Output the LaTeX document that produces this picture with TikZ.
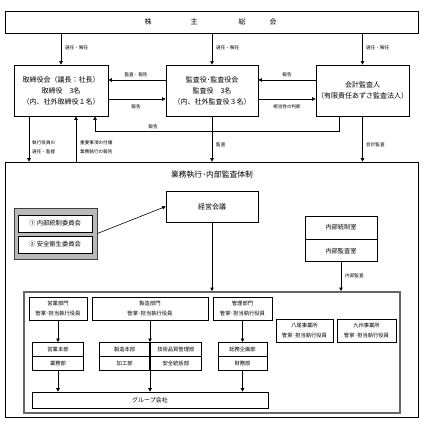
\documentclass[tikz,border=0pt]{standalone}
\usepackage{fontspec}
\setmainfont{Noto Sans CJK JP}
\usetikzlibrary{arrows.meta,calc}
\begin{document}
\begin{tikzpicture}[x=1pt,y=-1pt,
  box/.style={draw=black,line width=0.75pt,fill=white,inner sep=0pt,align=center,font=\fontsize{7}{11}\selectfont},
  sbox/.style={draw=black,line width=0.65pt,fill=white,inner sep=0pt,align=center,font=\fontsize{5.3}{9.5}\selectfont},
  cbox/.style={draw=black,line width=0.9pt,fill=white,inner sep=0pt,align=center,font=\fontsize{6.3}{8}\selectfont},
  lbl/.style={inner sep=0pt,align=left,font=\fontsize{4.6}{8.8}\selectfont},
  arr/.style={line width=0.6pt,-{Triangle[length=3.5pt,width=3.5pt]}},
  ln/.style={line width=0.6pt}]
\useasboundingbox (0,0) rectangle (427,427);
% helper coordinates
\coordinate (y80) at (0,80);
\coordinate (y99) at (0,99);
\coordinate (x29) at (29,0);
\coordinate (x76) at (76,0);
\coordinate (x339) at (339,0);
\coordinate (x95) at (95,0);
\coordinate (y131) at (0,131);
% top
\node[box,minimum width=413,minimum height=22] (kabu) at (211.5,22) {};
\node[inner sep=0pt,font=\fontsize{7}{9}\selectfont] (k1) at (148,22) {株};
\node[inner sep=0pt,font=\fontsize{7}{9}\selectfont] (k2) at (194,22) {主};
\node[inner sep=0pt,font=\fontsize{7}{9}\selectfont] (k3) at (242,22) {総};
\node[inner sep=0pt,font=\fontsize{7}{9}\selectfont] (k4) at (273,22) {会};
\node[box,minimum width=94,minimum height=51] (tori) at (61,90.5) {取締役会（議長：社長）\\取締役\quad 3名\\（内、社外取締役１名）};
\node[box,minimum width=92,minimum height=51] (kansa) at (212,90.5) {監査役･監査役会\\監査役\quad 3名\\（内、社外監査役３名）};
\node[box,minimum width=93,minimum height=51] (kaikei) at (362.5,90.5) {会計監査人\\（有限責任あずさ監査法人）};
\draw[arr] (kabu.south -| tori) -- (tori.north);
\draw[arr] (kabu.south -| kansa) -- (kansa.north);
\draw[arr] (kabu.south -| kaikei) -- (kaikei.north);
\node[lbl,anchor=west] (l1) at (65,48) {選任・解任};
\node[lbl,anchor=west] (l2) at (216,48) {選任・解任};
\node[lbl,anchor=west] (l3) at (366,48) {選任・解任};
\draw[arr] (kansa.west |- y80) -- (tori.east |- y80);
\draw[arr] (tori.east |- y99) -- (kansa.west |- y99);
\draw[arr] (kaikei.west |- y80) -- (kansa.east |- y80);
\draw[arr] (kansa.east |- y99) -- (kaikei.west |- y99);
\node[lbl] (l4) at (136,74.5) {監査・報告};
\node[lbl] (l5) at (136,107) {報告};
\node[lbl] (l6) at (287,74.5) {報告};
\node[lbl] (l7) at (287,107) {相当性の判断};
\draw[arr] (kaikei.south -| x339) |- (x95 |- y131) -- (tori.south -| x95);
\node[lbl] (l8) at (153,127) {報告};
% big box
\node[box,line width=0.65pt,minimum width=413,minimum height=255] (big) at (211.5,289.5) {};
\node[inner sep=0pt,font=\fontsize{7.8}{10}\selectfont] (title) at (212,175) {業務執行･内部監査体制};
\draw[arr] (tori.south -| x29) -- (big.north -| x29);
\draw[arr] (big.north -| x76) -- (tori.south -| x76);
\draw[arr] (kansa.south) -- (big.north -| kansa);
\draw[arr] (kaikei.south) -- (big.north -| kaikei);
\node[lbl,anchor=west] (l9) at (32,147.5) {執行役員の\\選任・監督};
\node[lbl,anchor=west] (l10) at (80,147.5) {重要事項の付議\\業務執行の報告};
\node[lbl,anchor=west] (l11) at (216,145) {監査};
\node[lbl,anchor=west] (l12) at (366,145) {会計監査};
% inside
\node[box,minimum width=92,minimum height=31] (keiei) at (212,206.5) {経営会議};
\node[draw=black!75,line width=0.8pt,fill=gray!55,minimum width=83,minimum height=51,inner sep=0pt] (comm) at (55.5,233.5) {};
\node[cbox,minimum width=74,minimum height=17] (c1) at (55,223.5) {①\ 内部統制委員会};
\node[cbox,minimum width=74,minimum height=17] (c2) at (55,244.5) {②\ 安全衛生委員会};
\draw[arr] (comm.east) -- (keiei.west);
\node[box,line width=0.65pt,minimum width=72,minimum height=23,font=\fontsize{6.2}{8}\selectfont] (nt) at (341,227.5) {内部統制室};
\node[box,line width=0.65pt,minimum width=72,minimum height=22,anchor=north,font=\fontsize{6.2}{8}\selectfont] (nk) at (nt.south) {内部監査室};
% inner frame
\node[draw=black!60,line width=2pt,minimum width=376,minimum height=121,inner sep=0pt] (inner) at (212,352.5) {};
\draw[arr] (keiei.south) -- (inner.north -| keiei);
\draw[arr] (nk.south) -- (inner.north -| nk);
\node[lbl,anchor=west] (l13) at (345,276) {内部監査};
\node[sbox,minimum width=58,minimum height=23] (eigyo) at (58,308.5) {営業部門\\管掌･担当執行役員};
\node[sbox,minimum width=116,minimum height=23] (seizo) at (150,308.5) {製造部門\\管掌･担当執行役員};
\node[sbox,minimum width=59,minimum height=23] (kanri) at (242.5,308.5) {管理部門\\管掌･担当執行役員};
\node[sbox,minimum width=57,minimum height=23] (yao) at (304.5,330.5) {八尾事業所\\管掌･担当執行役員};
\node[sbox,minimum width=59,minimum height=23] (kyu) at (366.5,330.5) {九州事業所\\管掌･担当執行役員};
\node[sbox,minimum width=51,minimum height=13.5,anchor=north] (e1) at (58,342) {営業本部};
\node[sbox,minimum width=51,minimum height=13.5,anchor=north] (e2) at (e1.south) {業務部};
\node[sbox,minimum width=50,minimum height=13.5,anchor=north east] (s1) at (150,342) {製造本部};
\node[sbox,minimum width=51,minimum height=13.5,anchor=north west] (s2) at (150,342) {技術品質管理部};
\node[sbox,minimum width=50,minimum height=13.5,anchor=north] (s3) at (s1.south) {加工部};
\node[sbox,minimum width=51,minimum height=13.5,anchor=north] (s4) at (s2.south) {安全統括部};
\node[sbox,minimum width=49,minimum height=13.5,anchor=north] (m1) at (242.5,342) {総務企画部};
\node[sbox,minimum width=49,minimum height=13.5,anchor=north] (m2) at (m1.south) {財務部};
\node[box,line width=0.65pt,minimum width=236,minimum height=16,font=\fontsize{6}{8}\selectfont] (grp) at (150,400) {グループ会社};
\draw[arr] (eigyo.south) -- (e1.north);
\draw[arr] (e2.south) -- (grp.north -| e2);
\draw[arr] (seizo.south) -- (s1.north east);
\draw[arr] (s1.north east) -- (grp.north -| s1.east);
\draw[arr] (kanri.south) -- (m1.north);
\draw[arr] (m2.south) -- (grp.north -| m2);
\end{tikzpicture}
\end{document}
